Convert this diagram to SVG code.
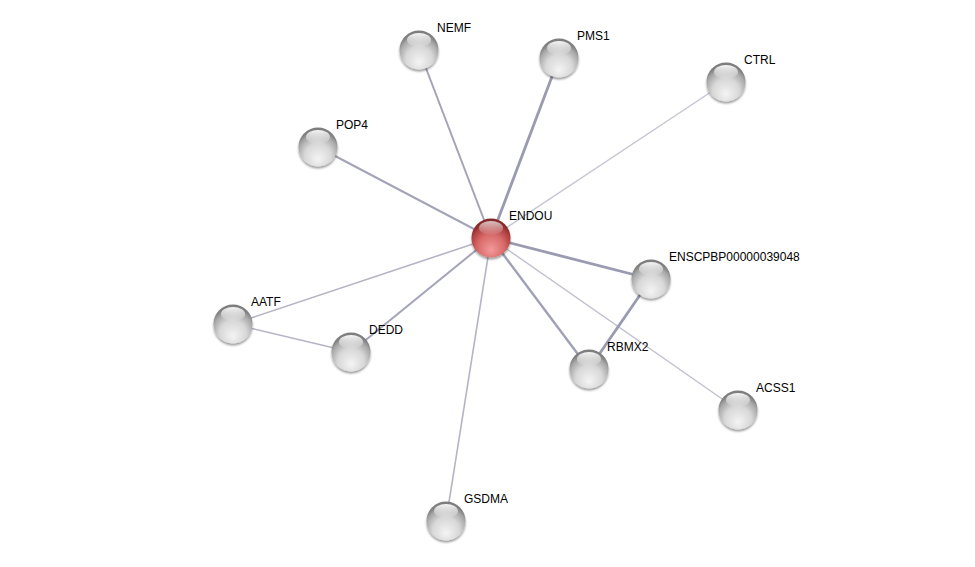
<svg xmlns="http://www.w3.org/2000/svg" width="975" height="567" viewBox="0 0 975 567">
<defs>
<radialGradient id="gBody" cx="0.5" cy="0.7" r="0.62" fx="0.5" fy="0.82">
<stop offset="0" stop-color="#f4f4f4"/>
<stop offset="0.55" stop-color="#d8d8d8"/>
<stop offset="0.85" stop-color="#a8a8a8"/>
<stop offset="1" stop-color="#7e7e7e"/>
</radialGradient>
<radialGradient id="rBody" cx="0.5" cy="0.7" r="0.62" fx="0.5" fy="0.82">
<stop offset="0" stop-color="#f49a9a"/>
<stop offset="0.55" stop-color="#d86a6a"/>
<stop offset="0.85" stop-color="#b04040"/>
<stop offset="1" stop-color="#852a2a"/>
</radialGradient>
<linearGradient id="hl" x1="0" y1="0" x2="0" y2="1">
<stop offset="0" stop-color="#ffffff" stop-opacity="0.95"/>
<stop offset="1" stop-color="#ffffff" stop-opacity="0.05"/>
</linearGradient>
<filter id="sh" x="-30%" y="-30%" width="160%" height="170%">
<feDropShadow dx="0" dy="2" stdDeviation="1.2" flood-color="#000" flood-opacity="0.4"/>
</filter>
<g id="gnode">
<circle r="19.5" fill="url(#gBody)" filter="url(#sh)"/>
<ellipse cx="0" cy="-10" rx="12" ry="7" fill="url(#hl)"/>
</g>
</defs>
<style>
.e{fill:none;stroke-linecap:butt}
.l{font-family:"Liberation Sans",Arial,sans-serif;font-size:12px;fill:#000;dominant-baseline:central}
</style>
<rect width="975" height="567" fill="#fff"/>
<g id="edges">
<line class="e" x1="491" y1="238" x2="419" y2="50" stroke="#a4a4b9" stroke-width="2"/>
<line class="e" x1="491" y1="238" x2="559" y2="58" stroke="#9a9ab1" stroke-width="2.8"/>
<line class="e" x1="491" y1="238" x2="726" y2="82" stroke="#c6c6d2" stroke-width="1.5"/>
<line class="e" x1="491" y1="238" x2="318" y2="147" stroke="#a4a4b9" stroke-width="2"/>
<line class="e" x1="491" y1="238" x2="651" y2="279" stroke="#9a9ab1" stroke-width="2.8"/>
<line class="e" x1="491" y1="238" x2="233" y2="324" stroke="#b4b4c6" stroke-width="1.6"/>
<line class="e" x1="491" y1="238" x2="351" y2="352" stroke="#a4a4b9" stroke-width="2"/>
<line class="e" x1="491" y1="238" x2="589" y2="369" stroke="#a0a0b6" stroke-width="2.4"/>
<line class="e" x1="491" y1="238" x2="738" y2="410" stroke="#c0c0ce" stroke-width="1.4"/>
<line class="e" x1="491" y1="238" x2="446" y2="521" stroke="#b4b4c6" stroke-width="1.6"/>
<line class="e" x1="233" y1="324" x2="351" y2="352" stroke="#b4b4c6" stroke-width="1.6"/>
<line class="e" x1="651" y1="279" x2="589" y2="369" stroke="#9a9ab1" stroke-width="2.8"/>
</g>
<g id="NEMF"><use href="#gnode" x="419" y="50"/><text class="l" x="437" y="28">NEMF</text></g>
<g id="PMS1"><use href="#gnode" x="559" y="58"/><text class="l" x="577" y="36">PMS1</text></g>
<g id="CTRL"><use href="#gnode" x="726" y="82"/><text class="l" x="744" y="60">CTRL</text></g>
<g id="POP4"><use href="#gnode" x="318" y="147"/><text class="l" x="336" y="125">POP4</text></g>
<g id="ENSCPBP00000039048"><use href="#gnode" x="651" y="279"/><text class="l" x="669" y="257">ENSCPBP00000039048</text></g>
<g id="AATF"><use href="#gnode" x="233" y="324"/><text class="l" x="251" y="302">AATF</text></g>
<g id="DEDD"><use href="#gnode" x="351" y="352"/><text class="l" x="369" y="330">DEDD</text></g>
<g id="RBMX2"><use href="#gnode" x="589" y="369"/><text class="l" x="607" y="347">RBMX2</text></g>
<g id="ACSS1"><use href="#gnode" x="738" y="410"/><text class="l" x="756" y="388">ACSS1</text></g>
<g id="GSDMA"><use href="#gnode" x="446" y="521"/><text class="l" x="464" y="499">GSDMA</text></g>
<g id="ENDOU">
<circle cx="491" cy="238" r="19.5" fill="url(#rBody)" filter="url(#sh)"/>
<ellipse cx="491" cy="228" rx="12" ry="7" fill="url(#hl)" opacity="0.75"/>
<text class="l" x="509" y="216">ENDOU</text>
</g>
</svg>
